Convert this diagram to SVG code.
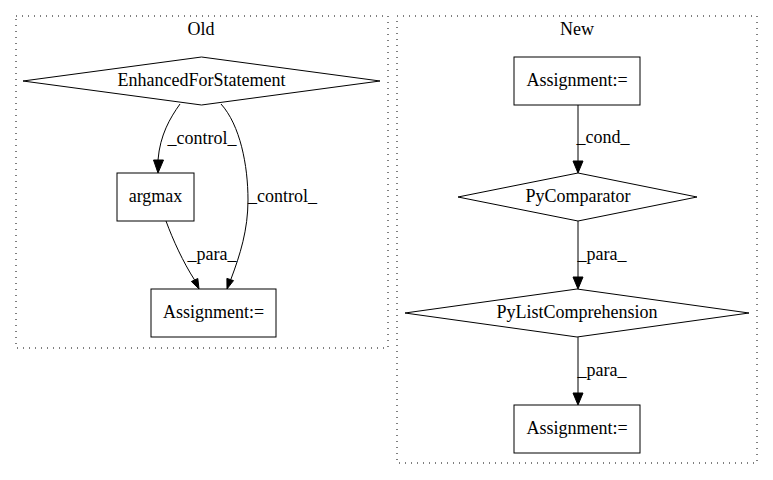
<svg xmlns="http://www.w3.org/2000/svg" width="773" height="480" viewBox="0 0 773 480">
<style>
text{font-family:"Liberation Serif","Times New Roman",serif;font-size:18px;fill:#000;text-anchor:middle}
.cl{fill:none;stroke:#000;stroke-dasharray:1,5;stroke-width:1}
.nd{fill:none;stroke:#000;stroke-width:1}
.ed{fill:none;stroke:#000;stroke-width:1}
.ah{fill:#000;stroke:#000;stroke-width:1}
</style>
<rect width="773" height="480" fill="#fff"/>
<g id="cluster_old">
<rect class="cl" x="16" y="16" width="372" height="332"/>
<text x="201" y="35">Old</text>
</g>
<g id="cluster_new">
<rect class="cl" x="397" y="16" width="360" height="447"/>
<text x="577" y="35">New</text>
</g>
<g id="connectors">
<path class="ed" d="M180,104 C170,118 160,135 158,160"/>
<polygon class="ah" points="153.5,160 158,173 163.5,160"/>
<text x="202" y="144">_control_</text>
<path class="ed" d="M221,104 C240,125 248,165 248,200 C248,230 240,255 231,279"/>
<polygon class="ah" points="233.5,280.6 227,289 226.9,278.4"/>
<text x="282.5" y="202">_control_</text>
<path class="ed" d="M166,221 C173,240 183,262 194.6,280"/>
<polygon class="ah" points="197.8,278.5 199,289 191.4,281.5"/>
<text x="212" y="260">_para_</text>
<path class="ed" d="M578,105 L578,161"/>
<polygon class="ah" points="573,161 578,173 583,161"/>
<text x="603" y="143">_cond_</text>
<path class="ed" d="M578,221 L578,277"/>
<polygon class="ah" points="573,277 578,289 583,277"/>
<text x="602" y="260">_para_</text>
<path class="ed" d="M578,337 L578,393"/>
<polygon class="ah" points="573,393 578,405 583,393"/>
<text x="602" y="376">_para_</text>
</g>
<g id="efs">
<polygon class="nd" points="201.5,57 380,81 201.5,105 23,81"/>
<text x="201.5" y="86">EnhancedForStatement</text>
</g>
<g id="argmax">
<rect class="nd" x="117" y="173" width="77" height="48"/>
<text x="155.5" y="202">argmax</text>
</g>
<g id="assign_old">
<rect class="nd" x="151" y="289" width="125" height="48"/>
<text x="213.5" y="318">Assignment:=</text>
</g>
<g id="assign_new1">
<rect class="nd" x="514" y="57" width="126" height="48"/>
<text x="577" y="86">Assignment:=</text>
</g>
<g id="pycomparator">
<polygon class="nd" points="578,173 697,197 578,221 458,197"/>
<text x="578" y="202">PyComparator</text>
</g>
<g id="pylistcomp">
<polygon class="nd" points="577,289 749,313 577,337 405,313"/>
<text x="577" y="318">PyListComprehension</text>
</g>
<g id="assign_new2">
<rect class="nd" x="514" y="405" width="126" height="48"/>
<text x="577" y="434">Assignment:=</text>
</g>
</svg>
